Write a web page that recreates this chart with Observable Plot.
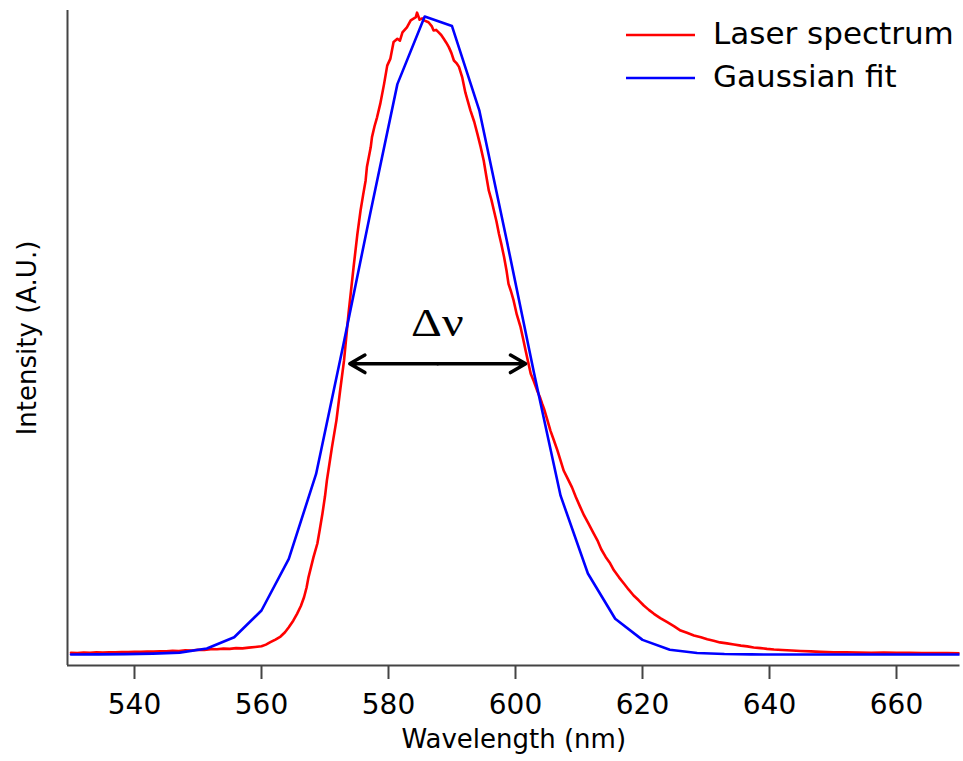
<!DOCTYPE html>
<html><head><meta charset="utf-8">
<script src="https://cdn.jsdelivr.net/npm/d3@7"></script>
<script src="https://cdn.jsdelivr.net/npm/@observablehq/plot@0.6"></script>
<style>
html,body{margin:0;padding:0;background:#fff;}
#chart{width:963px;height:761px;position:relative;}
g[aria-label="x-axis tick label"] text{font-size:28px;}
g[aria-label="x-axis tick"] path{stroke:#444;stroke-width:2px;}
</style></head><body><div id="chart"></div>
<script>
// Laser spectrum (red)
const redNm = [530.0,531.0,532.0,533.0,534.0,535.0,536.0,537.0,538.0,539.0,540.0,541.0,542.0,543.0,544.0,545.0,546.0,547.0,548.0,549.0,550.0,551.0,552.0,553.0,554.0,555.0,556.0,557.0,558.0,559.0,560.0,560.7,561.4,562.2,563.0,563.7,564.3,565.0,565.6,566.2,566.7,567.1,567.4,567.8,568.2,568.8,569.2,569.6,570.0,570.3,570.7,571.1,571.8,572.4,573.0,573.7,574.5,575.1,575.6,576.0,576.4,576.6,577.2,577.4,577.8,578.2,578.7,579.3,579.8,580.3,580.8,581.4,581.8,582.2,582.9,583.5,584.0,584.3,584.5,584.9,585.3,585.6,586.3,586.8,587.1,587.5,587.9,588.3,588.7,589.1,589.5,589.9,590.3,590.7,591.1,591.6,592.1,592.5,592.9,593.5,594.0,594.5,595.0,595.4,595.8,596.2,596.6,597.0,597.4,597.8,598.2,598.6,598.9,599.3,599.7,600.2,600.8,601.2,601.6,602.0,602.4,602.9,603.4,603.9,604.2,604.5,605.0,605.5,606.0,606.6,607.1,607.6,608.2,608.9,609.5,610.2,610.8,611.5,612.2,612.9,613.5,614.2,614.9,615.5,616.3,617.1,617.8,618.6,619.4,620.2,621.0,621.8,622.8,623.9,625.0,626.0,627.0,628.1,629.2,630.2,631.2,632.2,633.3,634.4,635.5,636.5,637.5,638.6,639.6,640.7,642.0,643.5,644.9,646.5,648.0,650.1,652.0,654.0,656.0,658.0,660.0,662.0,664.0,666.0,668.0,670.0];
const redI = [0.0027,0.0024,0.0030,0.0026,0.0033,0.0030,0.0036,0.0033,0.0040,0.0037,0.0043,0.0041,0.0047,0.0045,0.0052,0.0050,0.0058,0.0055,0.0065,0.0063,0.0075,0.0072,0.0085,0.0082,0.0092,0.0089,0.0100,0.0097,0.0108,0.0118,0.0130,0.0155,0.0193,0.0235,0.0282,0.0350,0.0428,0.0530,0.0638,0.0760,0.0898,0.1050,0.1210,0.1370,0.1530,0.1740,0.1970,0.2210,0.2480,0.2730,0.2990,0.3250,0.3670,0.4150,0.4610,0.5340,0.6070,0.6590,0.6960,0.7200,0.7430,0.7640,0.7950,0.8110,0.8280,0.8420,0.8630,0.8940,0.9230,0.9340,0.9600,0.9650,0.9620,0.9750,0.9830,0.9940,0.9970,0.9990,1.0060,0.9950,0.9970,0.9940,0.9910,0.9850,0.9780,0.9790,0.9750,0.9710,0.9650,0.9590,0.9520,0.9430,0.9310,0.9270,0.9210,0.9050,0.8810,0.8670,0.8530,0.8350,0.8160,0.7960,0.7740,0.7500,0.7270,0.7130,0.6960,0.6790,0.6590,0.6420,0.6230,0.6010,0.5810,0.5690,0.5550,0.5330,0.5130,0.4950,0.4760,0.4580,0.4400,0.4280,0.4140,0.4020,0.3930,0.3850,0.3680,0.3510,0.3370,0.3200,0.3040,0.2880,0.2760,0.2620,0.2470,0.2310,0.2180,0.2050,0.1920,0.1790,0.1650,0.1530,0.1430,0.1320,0.1210,0.1110,0.1020,0.0925,0.0850,0.0768,0.0700,0.0638,0.0570,0.0506,0.0440,0.0376,0.0340,0.0298,0.0270,0.0240,0.0215,0.0190,0.0175,0.0157,0.0140,0.0128,0.0110,0.0100,0.0088,0.0078,0.0072,0.0062,0.0055,0.0050,0.0042,0.0034,0.0036,0.0030,0.0028,0.0031,0.0026,0.0028,0.0024,0.0025,0.0022,0.0020];

// Gaussian fit (blue), coarse samples
const fitNm = [530,534.3,538.6,542.9,547.1,551.4,555.7,560,564.3,568.6,572.9,577.1,581.4,585.7,590,594.3,598.6,602.9,607.1,611.4,615.7,620,624.3,628.6,632.9,637.1,641.4,645.7,650,654.3,658.6,662.9,667.1,670];
const fitI = [0.0,0.0002,0.0006,0.0014,0.0030,0.0094,0.0270,0.069,0.150,0.283,0.486,0.690,0.894,1.0,0.985,0.853,0.650,0.442,0.249,0.127,0.056,0.023,0.0074,0.0025,0.0008,0.0002,0,0,0,0,0,0,0,0];

const seriesNames = ["Laser spectrum", "Gaussian fit"];
const seriesColors = ["#ff0000", "#0000ff"];
const xDomain = [529.45, 670];
const yDomain = [-0.0172, 1.0094];
const xTicks = [540, 560, 580, 600, 620, 640, 660];
const xLabel = "Wavelength (nm)";
const yLabel = "Intensity (A.U.)";
const arrowEnds = [573.9, 601.6];
const arrowLevel = 0.4556;
const deltaText = "Δν";
const deltaAt = [587.7, 0.5];

const red = redNm.map((x, i) => ({x, y: redI[i]}));
const fit = fitNm.map((x, i) => ({x, y: fitI[i]}));
const mid = (arrowEnds[0] + arrowEnds[1]) / 2;
const arrows = arrowEnds.map(e => ({x1: mid, x2: e, y: arrowLevel}));

const plot = Plot.plot({
  width: 963, height: 761,
  marginLeft: 67, marginRight: 3.5, marginTop: 10, marginBottom: 96,
  style: {fontFamily: "DejaVu Sans", fontSize: "26px", color: "#000", background: "#fff", overflow: "visible"},
  x: {domain: xDomain, ticks: xTicks, tickSize: 14, tickPadding: 15, label: xLabel, labelArrow: "none", labelAnchor: "center", labelOffset: 82},
  y: {domain: yDomain, ticks: [], tickSize: 0, label: yLabel, labelArrow: "none", labelAnchor: "center", labelOffset: 50},
  marks: [
    Plot.ruleX([xDomain[0]], {stroke: "#444", strokeWidth: 2}),
    Plot.ruleY([yDomain[0]], {stroke: "#444", strokeWidth: 2}),
    Plot.line(red, {x: "x", y: "y", stroke: seriesColors[0], strokeWidth: 2.6, clip: true}),
    Plot.line(fit, {x: "x", y: "y", stroke: seriesColors[1], strokeWidth: 2.6, clip: true}),
    Plot.arrow(arrows, {x1: "x1", x2: "x2", y1: "y", y2: "y", stroke: "#000", strokeWidth: 3.5, headLength: 7.5}),
    Plot.text([{x: deltaAt[0], y: deltaAt[1], t: deltaText}], {x: "x", y: "y", text: "t", fontFamily: "Liberation Serif", fontSize: 40, lineAnchor: "bottom", fill: "#000"})
  ]
});

const svg = d3.select(plot);
const lg = svg.append("g").attr("font-family", "DejaVu Sans").attr("font-size", 31).attr("text-anchor", "start");
seriesNames.forEach((name, i) => {
  const g = lg.append("g").attr("transform", `translate(626,${35 + i * 43})`);
  g.append("line").attr("x1", 0).attr("x2", 69).attr("stroke", seriesColors[i]).attr("stroke-width", 2.5);
  g.append("text").attr("x", 87).attr("y", 9).attr("fill", "#000").text(name);
});

document.getElementById("chart").appendChild(plot);

// widen the Δν annotation horizontally, as in the reference
svg.selectAll('g[aria-label="text"] text').each(function() {
  const b = this.getBBox();
  const cx = b.x + b.width / 2;
  const t = this.getAttribute("transform") || "";
  this.setAttribute("transform", `${t} translate(${cx},0) scale(1.2,1) translate(${-cx},0)`);
});
</script></body></html>
